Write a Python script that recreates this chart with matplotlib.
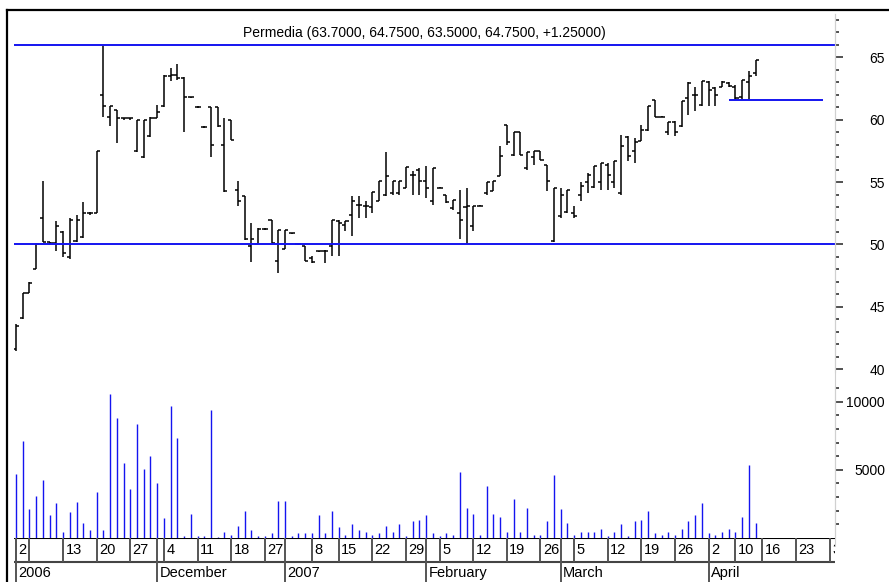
import matplotlib
matplotlib.use("Agg")
import matplotlib.pyplot as plt
from matplotlib.lines import Line2D
from matplotlib.ticker import MultipleLocator, FixedLocator

plt.rcParams["font.family"] = ["Liberation Sans", "DejaVu Sans"]

# ---- data (one bar per trading day, Nov 2 2006 .. Apr 13 2007) ----
opens = [41.6, 44.1, 46.1, 48.0, 52.1, 50.2, 50.1, 51.0, 49.0, 50.3,
         50.6, 52.5, 52.5, 62.0, 60.2, 60.8, 60.1, 60.1, 57.5, 57.0,
         58.7, 60.1, 61.1, 63.5, 63.6, 63.3, 61.8, 61.0, 59.4, 61.0,
         61.0, 58.0, 60.0, 54.4, 53.9, 49.9, 50.0, 51.26, 51.95, 48.7,
         49.6, 50.9, 50.0, 49.9, 48.9, 49.45, 49.5, 49.9, 51.9, 51.6,
         52.4, 53.2, 53.1, 53.0, 53.5, 54.0, 54.1, 54.1, 54.5, 55.6,
         56.0, 55.1, 53.5, 54.55, 54.0, 52.9, 52.5, 53.0, 51.5, 53.1,
         54.1, 54.3, 55.5, 59.6, 57.2, 59.0, 56.1, 57.0, 57.5, 56.4,
         50.3, 52.3, 52.6, 52.5, 54.0, 55.0, 54.6, 55.0, 56.4, 55.0,
         54.1, 58.6, 57.5, 58.3, 59.2, 61.6, 60.25, 59.0, 59.8, 59.5,
         61.7, 62.0, 61.2, 63.0, 62.5, 62.6, 62.9, 62.6, 61.8, 63.0,
         63.7]
highs = [43.6, 46.1, 47.0, 50.1, 55.1, 50.2, 51.9, 51.1, 52.1, 52.4,
         53.4, 52.6, 57.5, 65.9, 61.1, 60.8, 60.15, 60.15, 60.0, 60.0,
         60.2, 61.2, 63.6, 64.1, 64.5, 63.4, 61.85, 61.1, 59.5, 61.05,
         61.05, 60.1, 60.0, 55.1, 53.9, 51.7, 51.3, 51.3, 51.95, 51.2,
         51.2, 50.95, 50.05, 49.9, 49.1, 49.5, 49.55, 51.95, 51.95, 51.9,
         53.9, 53.9, 53.5, 54.2, 55.1, 57.4, 55.1, 55.1, 56.2, 55.9,
         56.1, 56.3, 56.1, 54.6, 54.0, 53.6, 54.4, 54.5, 53.1, 53.15,
         55.0, 55.1, 57.9, 59.6, 59.0, 59.0, 57.4, 57.5, 57.5, 56.4,
         54.5, 54.5, 54.4, 53.1, 55.0, 55.75, 56.3, 56.5, 56.5, 56.7,
         58.8, 58.7, 58.5, 59.6, 61.1, 61.6, 60.3, 59.8, 59.9, 61.5,
         63.0, 62.6, 63.1, 63.1, 62.6, 63.1, 63.0, 62.8, 63.2, 63.9,
         64.75]
lows = [41.5, 44.0, 46.1, 48.0, 50.2, 50.0, 49.5, 49.0, 48.8, 50.2,
        50.5, 52.4, 52.5, 60.2, 59.5, 58.1, 60.0, 60.0, 57.4, 56.9,
        58.6, 60.1, 61.0, 63.1, 63.2, 59.0, 61.7, 60.95, 59.35, 57.0,
        59.45, 54.2, 58.4, 53.1, 50.35, 48.6, 50.0, 51.2, 50.1, 47.7,
        49.6, 50.85, 49.95, 48.7, 48.5, 49.4, 48.5, 49.05, 49.05, 51.1,
        50.7, 52.1, 52.1, 52.5, 53.5, 53.9, 54.0, 54.0, 54.5, 54.0,
        54.0, 53.75, 53.2, 54.5, 53.3, 52.8, 50.45, 50.0, 51.1, 53.05,
        54.0, 54.3, 55.5, 58.0, 57.1, 57.2, 56.0, 56.4, 56.8, 54.3,
        50.2, 52.1, 52.5, 52.1, 53.5, 54.15, 54.55, 54.4, 54.4, 54.55,
        54.0, 56.7, 56.55, 58.3, 59.1, 60.2, 60.2, 58.8, 58.7, 59.4,
        60.4, 60.7, 61.1, 61.1, 61.1, 62.6, 62.6, 61.6, 61.6, 61.6,
        63.5]
closes = [43.5, 46.1, 46.9, 50.0, 50.2, 50.1, 51.5, 49.3, 52.0, 52.0,
          52.5, 52.5, 57.5, 61.1, 61.1, 60.1, 60.1, 60.1, 60.0, 60.0,
          60.1, 60.6, 63.5, 63.6, 63.3, 61.8, 61.8, 61.05, 59.4, 58.0,
          59.5, 54.3, 58.4, 53.5, 50.4, 50.4, 51.26, 51.26, 50.1, 51.2,
          51.2, 50.9, 50.0, 48.7, 48.6, 49.45, 49.5, 51.95, 51.7, 51.85,
          53.5, 53.2, 53.1, 54.2, 55.1, 55.5, 55.1, 55.1, 56.2, 55.6,
          55.1, 54.5, 56.1, 54.55, 53.4, 53.6, 52.0, 53.1, 53.1, 53.1,
          55.0, 55.1, 57.1, 58.2, 59.0, 57.2, 57.4, 57.5, 56.8, 55.1,
          54.5, 54.0, 54.4, 52.3, 54.7, 55.6, 56.3, 56.5, 55.6, 56.7,
          57.9, 57.1, 58.2, 59.2, 61.1, 60.2, 60.25, 59.8, 59.0, 61.5,
          62.9, 62.0, 63.1, 62.4, 62.0, 63.0, 62.7, 61.7, 63.2, 63.5,
          64.75]
volumes = [4660, 7080, 2100, 3070, 4270, 1660, 2540, 460, 1880, 2640,
           1100, 560, 3390, 560, 10540, 8810, 5470, 3610, 8370, 5030,
           6000, 4030, 1440, 9660, 7300, 150, 1760, 150, 150, 9370,
           70, 440, 240, 900, 1980, 560, 150, 150, 370, 2730,
           2730, 150, 370, 370, 370, 1660, 370, 1980, 800, 240,
           1000, 560, 460, 240, 370, 900, 460, 1000, 150, 1220,
           1320, 1660, 370, 150, 370, 240, 4810, 2220, 1760, 240,
           3810, 1760, 1560, 460, 2860, 460, 2220, 240, 240, 1220,
           4590, 2100, 1100, 240, 460, 460, 460, 680, 150, 460,
           1000, 150, 1220, 1320, 1980, 370, 240, 460, 240, 680,
           1220, 1660, 2540, 370, 240, 460, 680, 460, 1560, 5340,
           1100]

# reference lines (price levels) and the short support line
levels = [66.0, 50.0]
support_level = 61.55
support_span = [106.1, 120.0]

# date axis: first trading day of each week / month (bar index)
week_idx = [0, 2, 7, 12, 17, 22, 27, 32, 37, 44, 48, 53, 58, 63, 68, 73,
            78, 83, 88, 93, 98, 103, 107, 111, 116, 121]
week_lbl = ["2", "", "13", "20", "27", "4", "11", "18", "27", "8", "15",
            "22", "29", "5", "12", "19", "26", "5", "12", "19", "26", "2",
            "10", "16", "23", "30"]
month_idx = [0, 21, 40, 61, 81, 103]
month_lbl = ["2006", "December", "2007", "February", "March", "April"]

title = "Permedia (63.7000, 64.7500, 63.5000, 64.7500, +1.25000)"

# ---- layout (pixel based) ----
W, H = 889, 582
fig = plt.figure(figsize=(W / 100, H / 100), dpi=100)
fig.patch.set_facecolor("white")


def box(x0, y0, x1, y1):
    return [x0 / W, 1 - y1 / H, (x1 - x0) / W, (y1 - y0) / H]


LEFT, RIGHT = 14, 835
xlim = (-0.297, 121.8)

ax_p = fig.add_axes(box(LEFT, 14.2, RIGHT, 371.8))
ax_v = fig.add_axes(box(LEFT, 386, RIGHT, 538))
ax_d = fig.add_axes(box(LEFT, 538, RIGHT, 582))

BLUE = "#1414f0"
x = list(range(len(opens)))

# price bars
ax_p.vlines(x, lows, highs, color="black", lw=1.1)
ax_p.hlines(opens, [i - 0.45 for i in x], x, color="black", lw=1.1)
ax_p.hlines(closes, x, [i + 0.45 for i in x], color="black", lw=1.1)
for lv in levels:
    ax_p.axhline(lv, color=BLUE, lw=1.4)
ax_p.hlines(support_level, support_span[0], support_span[1], color=BLUE,
            lw=1.4)
ax_p.set_ylim(39.8, 68.45)

# volume bars
ax_v.vlines(x, 0, volumes, color=BLUE, lw=1.0)
ax_v.set_ylim(0, 11150)

tick_pad = 30.2
for ax in (ax_p, ax_v):
    ax.set_xlim(*xlim)
    for s in ("top", "left", "bottom"):
        ax.spines[s].set_visible(False)
    ax.spines["right"].set_color("#d0d0d0")
    ax.set_xticks([])
    ax.yaxis.tick_right()
    ax.tick_params(axis="y", which="major", length=5.8, width=1.1,
                   color="#222222", labelsize=10, pad=tick_pad)
    ax.tick_params(axis="y", which="minor", length=2.9, width=1.1,
                   color="#222222")
    ax.set_facecolor("none")

ax_p.yaxis.set_major_locator(MultipleLocator(5))
ax_p.yaxis.set_minor_locator(MultipleLocator(1))
ax_v.yaxis.set_major_locator(FixedLocator([5000, 10000]))
ax_v.yaxis.set_minor_locator(FixedLocator(
    [v for v in range(1000, 12000, 1000) if v not in (5000, 10000)]))
for ax in (ax_p, ax_v):
    for lab in ax.get_yticklabels():
        lab.set_horizontalalignment("right")

# date rows
ax_d.set_xlim(*xlim)
ax_d.set_ylim(0, 1)
ax_d.axis("off")
mid = 20 / 44
ax_d.axhline(1, color="black", lw=1.5)
ax_d.axhline(mid, color="#444444", lw=1.5)
ax_d.vlines(week_idx, mid, 1, color="#555555", lw=1.4)
ax_d.vlines(month_idx, 0, 1, color="#555555", lw=1.4)
for i, t in zip(week_idx, week_lbl):
    ax_d.text(i + 0.35, (1 + mid) / 2, t, ha="left", va="center",
              fontsize=10.5, clip_on=True)
for i, t in zip(month_idx, month_lbl):
    ax_d.text(i + 0.35, mid / 2 - 0.02, t, ha="left", va="center",
              fontsize=10.5, clip_on=True)

# outer frame and right axis line
fig.add_artist(Line2D([7 / W, 1], [1 - 10 / H, 1 - 10 / H],
                      color="black", lw=1.6))
fig.add_artist(Line2D([7 / W, 7 / W], [0, 1 - 10 / H],
                      color="black", lw=1.6))
fig.add_artist(Line2D([RIGHT / W, RIGHT / W], [1 - 546 / H, 1 - 14 / H],
                      color="#d0d0d0", lw=0.8))

fig.text((LEFT + RIGHT) / 2 / W, 1 - 33 / H, title, ha="center",
         va="center", fontsize=10)

fig.savefig("out.png", dpi=100, facecolor="white")
